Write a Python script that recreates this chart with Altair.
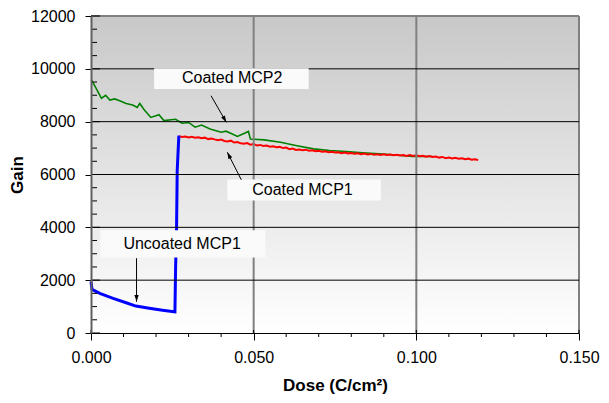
import altair as alt
import pandas as pd

# ---------------- data ----------------
green_x = [0.0000, 0.0002, 0.0017, 0.0032, 0.0045, 0.0058, 0.0073, 0.0088, 0.0108, 0.0128,
           0.0142, 0.0150, 0.0164, 0.0184, 0.0209, 0.0224, 0.0260, 0.0280, 0.0300, 0.0320,
           0.0340, 0.0366, 0.0400, 0.0415, 0.0431, 0.0450, 0.0484, 0.0490, 0.0532, 0.0583,
           0.0633, 0.0684, 0.0734, 0.0785, 0.0835, 0.0886, 0.0936, 0.0987, 0.1050]
green_y = [9550, 9570, 9230, 8880, 9000, 8820, 8860, 8790, 8690, 8630,
           8540, 8690, 8440, 8160, 8260, 8040, 8090, 7940, 7970, 7790,
           7870, 7720, 7600, 7640, 7550, 7440, 7630, 7340, 7310, 7220,
           7090, 6970, 6910, 6870, 6820, 6780, 6740, 6680, 6680]

red_x = [round(0.027 + 0.001 * i, 3) for i in range(93)]
red_y = [7450, 7420, 7440, 7400, 7425, 7390, 7410, 7370, 7395, 7340,
         7365, 7330, 7300, 7320, 7270, 7250, 7280, 7210, 7230, 7180,
         7165, 7190, 7130, 7150, 7100, 7120, 7080, 7095, 7050, 7070,
         7030, 7045, 7000, 7020, 6960, 6985, 6930, 6950, 6920, 6940,
         6900, 6915, 6880, 6900, 6860, 6875, 6840, 6860, 6830, 6845,
         6810, 6830, 6800, 6815, 6790, 6805, 6770, 6790, 6760, 6780,
         6750, 6770, 6740, 6765, 6735, 6755, 6730, 6750, 6720, 6740,
         6705, 6735, 6700, 6725, 6690, 6710, 6670, 6695, 6660, 6680,
         6640, 6665, 6620, 6645, 6610, 6630, 6600, 6615, 6580, 6600,
         6560, 6575, 6550]

blue_x = [0.0000, 0.0003, 0.0027, 0.0068, 0.0108, 0.0138, 0.0179, 0.0220, 0.0255,
          0.0258, 0.0260, 0.0263, 0.0265, 0.0270]
blue_y = [1950, 1650, 1500, 1310, 1145, 1020, 935, 860, 805,
          800, 2450, 3960, 6150, 7470]

y_major = [0, 2000, 4000, 6000, 8000, 10000, 12000]
x_major = [0.0, 0.05, 0.10, 0.15]
y_minor = [500 * i for i in range(1, 24) if (500 * i) % 2000 != 0]
x_minor = [round(0.01 * i, 2) for i in range(1, 15) if i % 5 != 0]
y_grid = [2000, 4000, 6000, 8000, 10000]
x_grid = [0.05, 0.10, 0.15]

labels = ["Coated MCP2", "Coated MCP1", "Uncoated MCP1"]
label_x = [0.0434, 0.0650, 0.0280]
label_y = [9642, 5415, 3370]
box_x1 = [0.0194, 0.0419, 0.0029]
box_x2 = [0.0669, 0.0891, 0.0536]
box_y1 = [10026, 5811, 3887]
box_y2 = [9234, 5019, 2857]
arrow_x1 = [0.0369, 0.0462, 0.0140]
arrow_y1 = [8981, 5800, 2830]
arrow_x2 = [0.0416, 0.0419, 0.0140]
arrow_y2 = [7974, 6842, 1181]
arrow_angle = [150, 333, 180]

# ---------------- setup ----------------
W, H = 488, 317
FONT = "Liberation Sans"
xs = alt.Scale(domain=[0, 0.15], nice=False, zero=False)
ys = alt.Scale(domain=[0, 12000], nice=False)

x_axis = alt.Axis(values=x_major, format=".3f", title="Dose (C/cm²)", grid=False,
                  tickSize=7, tickColor="black", domainColor="black", domainWidth=1,
                  labelPadding=9, labelFlush=False, labelFont=FONT, labelFontSize=16,
                  labelColor="black", titleFont=FONT, titleFontSize=17,
                  titleFontWeight="bold", titleColor="black",
                  titleBaseline="alphabetic", titleY=57, zindex=1)
y_axis = alt.Axis(values=y_major, format="d", title="Gain", grid=False,
                  tickSize=6, tickColor="black", domainColor="#606060", domainWidth=2,
                  labelPadding=10, labelFlush=False, labelFont=FONT, labelFontSize=16,
                  labelColor="black", titleFont=FONT, titleFontSize=17,
                  titleFontWeight="bold", titleColor="black",
                  titleBaseline="middle", titleX=-74, zindex=1)


def X(f):
    return alt.X(f, type="quantitative", scale=xs, axis=x_axis)


def Y(f):
    return alt.Y(f, type="quantitative", scale=ys, axis=y_axis)


one = pd.DataFrame({"v": [0]})
bg = alt.Chart(one).mark_rect(
    fill=alt.LinearGradient(gradient="linear",
                            stops=[alt.GradientStop(color="#c8c8c8", offset=0),
                                   alt.GradientStop(color="#ffffff", offset=1)],
                            x1=0, x2=0, y1=0, y2=1)
).encode(x=alt.value(0), x2=alt.value(W), y=alt.value(0), y2=alt.value(H))


def series(xv, yv, color, width):
    df = pd.DataFrame({"x": xv, "y": yv, "i": list(range(len(xv)))})
    return alt.Chart(df).mark_line(color=color, strokeWidth=width).encode(
        x=X("x"), y=Y("y"), order="i:Q")


green = series(green_x, green_y, "#008000", 1.6)
red = series(red_x, red_y, "#ff0000", 2)
blue = series(blue_x, blue_y, "#0000ff", 3)

hgrid = alt.Chart(pd.DataFrame({"y": y_grid})).mark_rule(color="black", strokeWidth=1).encode(y=Y("y"))
topline = alt.Chart(pd.DataFrame({"y": [12000]})).mark_rule(color="#808080", strokeWidth=2).encode(y=Y("y"))
vgrid = alt.Chart(pd.DataFrame({"x": x_grid})).mark_rule(color="#808080", strokeWidth=2).encode(x=X("x"))

ann = pd.DataFrame({"label": labels, "lx": label_x, "ly": label_y,
                    "bx1": box_x1, "bx2": box_x2, "by1": box_y1, "by2": box_y2,
                    "ax1": arrow_x1, "ay1": arrow_y1, "ax2": arrow_x2, "ay2": arrow_y2,
                    "ang": arrow_angle})
boxes = alt.Chart(ann).mark_rect(fill="#fafafa").encode(x=X("bx1"), x2="bx2", y=Y("by1"), y2="by2")
texts = alt.Chart(ann).mark_text(font=FONT, fontSize=16, color="black", align="center",
                                 baseline="middle").encode(x=X("lx"), y=Y("ly"), text="label:N")
arrows = alt.Chart(ann).mark_rule(color="black", strokeWidth=1).encode(
    x=X("ax1"), y=Y("ay1"), x2="ax2", y2="ay2")
heads = alt.Chart(ann).mark_point(shape="M0,0L-0.32,1L0.32,1Z", filled=True, size=180,
                                  color="black", opacity=1).encode(
    x=X("ax2"), y=Y("ay2"), angle=alt.Angle("ang:Q", scale=None))

ymin_t = alt.Chart(pd.DataFrame({"y": y_minor})).mark_rule(color="black", strokeWidth=1).encode(
    y=Y("y"), x=alt.value(0), x2=alt.value(6))
ymaj_t = alt.Chart(pd.DataFrame({"y": y_major})).mark_rule(color="black", strokeWidth=1).encode(
    y=Y("y"), x=alt.value(0), x2=alt.value(9))
xmin_t = alt.Chart(pd.DataFrame({"x": x_minor})).mark_rule(color="black", strokeWidth=1).encode(
    x=X("x"), y=alt.value(H), y2=alt.value(H + 4))
xmaj_t = alt.Chart(pd.DataFrame({"x": x_major})).mark_rule(color="black", strokeWidth=1).encode(
    x=X("x"), y=alt.value(H - 3), y2=alt.value(H))

chart = alt.layer(
    bg, green, red, blue, vgrid, hgrid, topline, boxes, texts, arrows, heads,
    ymin_t, ymaj_t, xmin_t, xmaj_t
).properties(
    width=W, height=H,
    autosize=alt.AutoSizeParams(type="none"),
    padding={"left": 83, "top": 8, "right": 22, "bottom": 62},
    background="white",
).configure_view(strokeWidth=0)

chart.save("out.html", embed_options={"renderer": "svg", "actions": False})
